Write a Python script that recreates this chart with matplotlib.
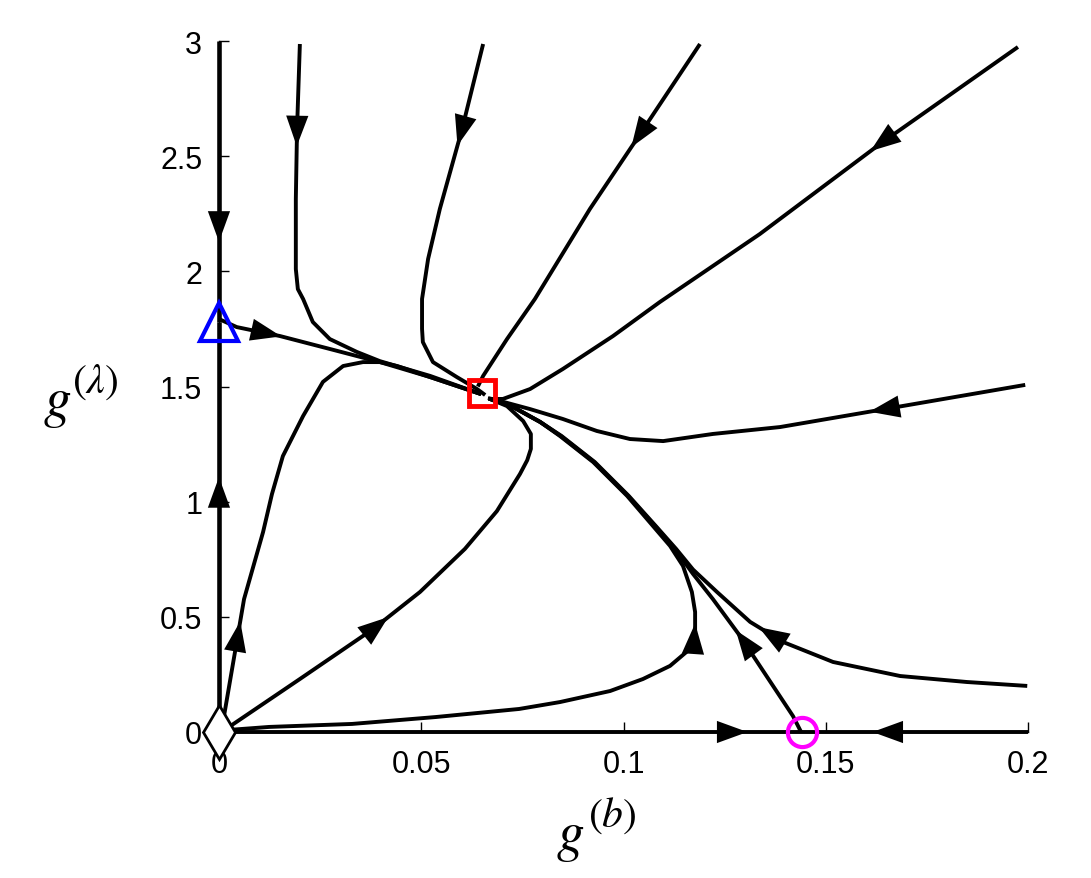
import matplotlib
matplotlib.use("Agg")
import matplotlib.pyplot as plt
import numpy as np

plt.rcParams['font.family'] = ['Liberation Sans', 'DejaVu Sans']
plt.rcParams['mathtext.fontset'] = 'stix'

# trajectories (g_b, g_lambda), listed in the direction of the flow
left_top_x = [0, 0]
left_top_y = [3.0, 1.78]
left_low_x = [0, 0]
left_low_y = [0.0, 1.78]
bottom_left_x = [0.0, 0.144]
bottom_left_y = [0, 0]
bottom_right_x = [0.2, 0.144]
bottom_right_y = [0, 0]

tri_x = [0.0, 0.0044, 0.0151, 0.0274, 0.0398, 0.0522, 0.0648]
tri_y = [1.793, 1.758, 1.719, 1.663, 1.606, 1.541, 1.467]

top1_x = [0.0200, 0.0193, 0.0190, 0.0190, 0.0195, 0.0208, 0.0232, 0.0274, 0.0341, 0.0398, 0.0522, 0.0648]
top1_y = [2.987, 2.618, 2.314, 2.010, 1.923, 1.880, 1.780, 1.706, 1.650, 1.610, 1.546, 1.467]

top2_x = [0.0653, 0.0601, 0.0546, 0.0517, 0.0502, 0.0502, 0.0504, 0.0529, 0.0588, 0.0638, 0.0658]
top2_y = [2.987, 2.618, 2.271, 2.054, 1.880, 1.750, 1.693, 1.606, 1.541, 1.489, 1.463]

top3_x = [0.1189, 0.1041, 0.0917, 0.0781, 0.0712, 0.0653, 0.0640]
top3_y = [2.987, 2.596, 2.271, 1.880, 1.706, 1.546, 1.500]

top4_x = [0.1975, 0.1634, 0.1337, 0.1214, 0.1090, 0.0974, 0.0850, 0.0769, 0.0702, 0.0665]
top4_y = [2.974, 2.553, 2.162, 2.015, 1.867, 1.719, 1.576, 1.489, 1.446, 1.446]

right1_x = [0.1993, 0.1646, 0.1387, 0.1221, 0.1098, 0.1016, 0.0934, 0.0850, 0.0769, 0.0695, 0.0665]
right1_y = [1.507, 1.402, 1.324, 1.294, 1.263, 1.272, 1.307, 1.359, 1.402, 1.437, 1.450]

right2_x = [0.1998, 0.1849, 0.1684, 0.1518, 0.1394, 0.1313, 0.1231, 0.1172, 0.1130, 0.1080, 0.1013,
            0.0929, 0.0847, 0.0794, 0.0727, 0.0670]
right2_y = [0.200, 0.217, 0.243, 0.304, 0.391, 0.478, 0.608, 0.705, 0.795, 0.894, 1.025,
            1.172, 1.285, 1.346, 1.411, 1.446]

circ_x = [0.1439, 0.1419, 0.1288, 0.1221, 0.1172, 0.1127, 0.1078, 0.1011, 0.0927, 0.0845, 0.0794, 0.0727, 0.0670]
circ_y = [0.0, 0.069, 0.417, 0.577, 0.686, 0.795, 0.894, 1.025, 1.172, 1.285, 1.346, 1.411, 1.446]

loop_out_x = [0.0, 0.0025, 0.0124, 0.0329, 0.0536, 0.0742, 0.0843, 0.0967, 0.1048, 0.1115, 0.1164, 0.1177,
              0.1177, 0.1169, 0.1147, 0.1115, 0.1073, 0.1009, 0.0925, 0.0843, 0.0794, 0.0727, 0.0670]
loop_out_y = [0.0, 0.009, 0.022, 0.035, 0.065, 0.100, 0.130, 0.178, 0.230, 0.287, 0.360, 0.434,
              0.521, 0.608, 0.721, 0.808, 0.894, 1.025, 1.172, 1.285, 1.346, 1.411, 1.446]

loop_in_x = [0.0, 0.0025, 0.0200, 0.0381, 0.0497, 0.0608, 0.0687, 0.0744, 0.0762, 0.0771, 0.0771, 0.0752,
             0.0712, 0.0670]
loop_in_y = [0.0, 0.022, 0.230, 0.447, 0.608, 0.795, 0.959, 1.120, 1.180, 1.229, 1.294, 1.350,
             1.415, 1.446]

loop_left_x = [0.0, 0.0007, 0.0062, 0.0109, 0.0131, 0.0158, 0.0208, 0.0257, 0.0307, 0.0356, 0.0398, 0.0440,
               0.0522, 0.0648]
loop_left_y = [0.0, 0.013, 0.577, 0.868, 1.033, 1.198, 1.372, 1.520, 1.589, 1.606, 1.606, 1.589,
               1.541, 1.467]

# where the arrowheads sit (tip position)
curves = [
    (left_top_x, left_top_y, (0, 2.13)),
    (left_low_x, left_low_y, (0, 1.107)),
    (bottom_left_x, bottom_left_y, (0.1305, 0)),
    (bottom_right_x, bottom_right_y, (0.1616, 0)),
    (tri_x, tri_y, (0.0158, 1.737)),
    (top1_x, top1_y, (0.0193, 2.544)),
    (top2_x, top2_y, (0.0590, 2.544)),
    (top3_x, top3_y, (0.1030, 2.531)),
    (top4_x, top4_y, (0.1608, 2.523)),
    (right1_x, right1_y, (0.1608, 1.394)),
    (right2_x, right2_y, (0.1337, 0.460)),
    (circ_x, circ_y, (0.1270, 0.435)),
    (loop_out_x, loop_out_y, (0.1184, 0.469)),
    (loop_in_x, loop_in_y, (0.0423, 0.491)),
    (loop_left_x, loop_left_y, (0.0049, 0.482)),
]

xticks = [0, 0.05, 0.1, 0.15, 0.2]
xtick_labels = ['0', '0.05', '0.1', '0.15', '0.2']
yticks = [0, 0.5, 1, 1.5, 2, 2.5, 3]
ytick_labels = ['0', '0.5', '1', '1.5', '2', '2.5', '3']

fig = plt.figure(figsize=(10.91, 8.79), dpi=100)
ax = fig.add_axes([0.2007, 0.1661, 0.7416, 0.7861])
ax.set_xlim(0, 0.2)
ax.set_ylim(0, 3)


def dense(xs, ys, n=400):
    xs = np.asarray(xs, float)
    ys = np.asarray(ys, float)
    d = np.hypot(np.diff(xs) / 0.2, np.diff(ys) / 3.0)
    s = np.concatenate([[0], np.cumsum(d)])
    t = np.linspace(0, s[-1], n)
    return np.interp(t, s, xs), np.interp(t, s, ys)


for xs, ys, tip in curves:
    lw = 3.3 if xs is left_top_x or xs is left_low_x else 2.8
    ax.plot(xs, ys, color='k', lw=lw, solid_joinstyle='round', solid_capstyle='butt', clip_on=False, zorder=3)
    dx, dy = dense(xs, ys)
    i = np.argmin(np.hypot((dx - tip[0]) / 0.2, (dy - tip[1]) / 3.0))
    i = max(i, 6)
    ax.annotate('', xy=(dx[i], dy[i]), xytext=(dx[i - 6], dy[i - 6]),
                arrowprops=dict(arrowstyle='-|>,head_length=1.1,head_width=0.4', color='k', lw=0,
                                shrinkA=0, shrinkB=0, mutation_scale=20),
                zorder=4, annotation_clip=False)

# fixed points
ax.plot([0], [1.78], marker='^', ms=27, mfc='none', mec='#0000ff', mew=3, clip_on=False, zorder=6)
ax.plot([0.065], [1.47], marker='s', ms=19, mfc='none', mec='#ff0000', mew=3.5, clip_on=False, zorder=6)
ax.plot([0.144], [0], marker='o', ms=21, mfc='none', mec='#ff00ff', mew=3, clip_on=False, zorder=6)
ax.plot([0], [0], marker='d', ms=27, mfc='white', mec='k', mew=2, clip_on=False, zorder=6)

ax.spines['top'].set_visible(False)
ax.spines['right'].set_visible(False)
ax.spines['left'].set_linewidth(1)
ax.spines['bottom'].set_linewidth(1)
ax.set_xticks(xticks)
ax.set_xticklabels(xtick_labels)
ax.set_yticks(yticks)
ax.set_yticklabels(ytick_labels)
ax.tick_params(direction='in', length=7, width=1, labelsize=22, pad=12)

# axis labels: g with a raised (.) superscript
fig.text(0.0394, 0.5267, r'$g$', fontsize=40, ha='left', va='baseline')
fig.text(0.066, 0.5529, r'$(\lambda)$', fontsize=30, ha='left', va='baseline')
fig.text(0.510, 0.033, r'$g$', fontsize=40, ha='left', va='baseline')
fig.text(0.539, 0.060, r'$(b)$', fontsize=30, ha='left', va='baseline')

fig.savefig('out.png', dpi=100)
